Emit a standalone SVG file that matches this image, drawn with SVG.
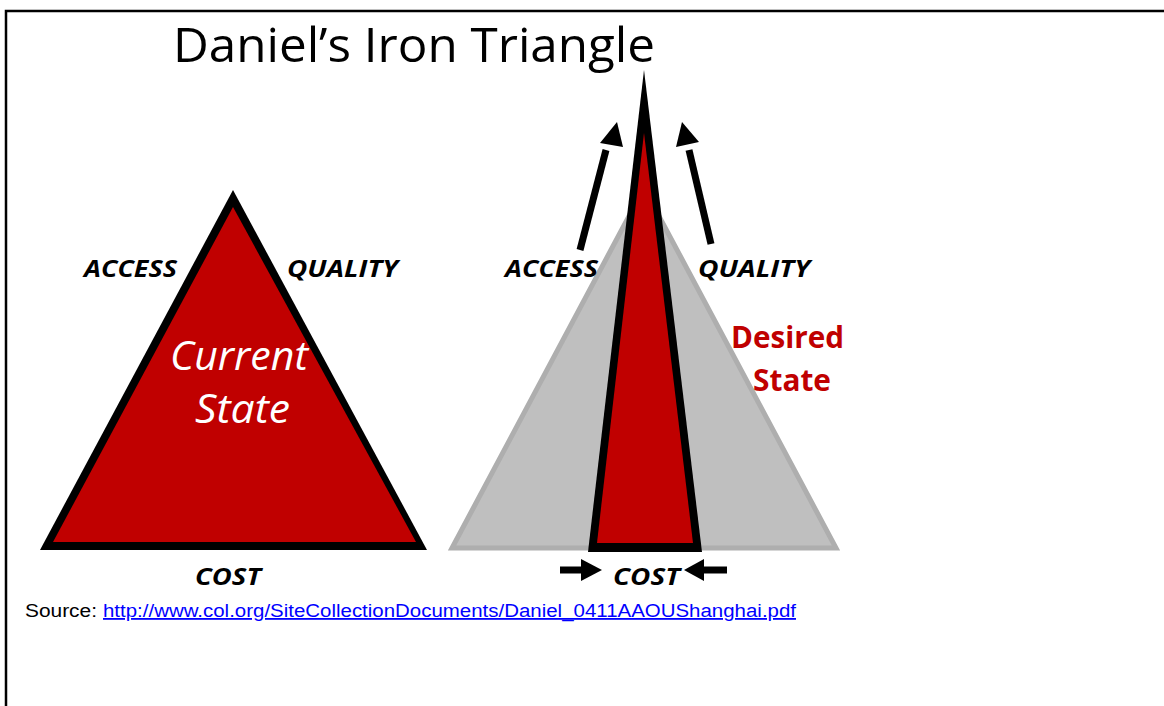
<svg xmlns="http://www.w3.org/2000/svg" width="1164" height="706" viewBox="0 0 1164 706">
  <defs>
    <style>
      .lbl { font-family: "Open Sans", "Noto Sans", sans-serif; font-weight: bold; font-style: italic; font-size: 24px; fill: #000; }
      .cost { font-family: "Open Sans", "Noto Sans", sans-serif; font-weight: bold; font-style: italic; font-size: 23px; fill: #000; }
      .cur { font-family: "Open Sans", "Noto Sans", sans-serif; font-style: italic; font-size: 41px; fill: #fff; }
      .des { font-family: "Open Sans", "Noto Sans", sans-serif; font-weight: bold; font-size: 30px; fill: #C00000; }
      .arrow { stroke: #000; stroke-width: 7; fill: none; }
      .head { fill: #000; }
    </style>
  </defs>
  <rect width="1164" height="706" fill="#fff"/>
  <path d="M6 706 V11 H1164" fill="none" stroke="#000" stroke-width="2.5"/>

  <text x="173" y="62" font-family="Open Sans, Noto Sans, sans-serif" font-size="48" textLength="482" lengthAdjust="spacingAndGlyphs">Daniel’s Iron Triangle</text>

  <g id="current-state">
    <polygon points="233,190 40,550 427,550" fill="#000"/>
    <polygon points="233,207 53,542 416,542" fill="#C00000"/>
    <text class="cur" x="170" y="370" textLength="138" lengthAdjust="spacingAndGlyphs">Current</text>
    <text class="cur" x="195" y="423" textLength="95" lengthAdjust="spacingAndGlyphs">State</text>
  </g>
  <g id="left-labels">
    <text class="lbl" x="84" y="277" textLength="93" lengthAdjust="spacingAndGlyphs">ACCESS</text>
    <text class="lbl" x="287" y="277" textLength="111" lengthAdjust="spacingAndGlyphs">QUALITY</text>
    <text class="cost" x="195" y="585" textLength="66" lengthAdjust="spacingAndGlyphs">COST</text>
  </g>

  <g id="desired-state">
    <polygon points="644,188 452,548 836,548" fill="#BFBFBF" stroke="#AEAEAE" stroke-width="5" stroke-linejoin="miter"/>
    <polygon points="644,70 588,552 702,552" fill="#000"/>
    <polygon points="644,133 597,543 693,543" fill="#C00000"/>
    <text class="des" x="731" y="348" textLength="113" lengthAdjust="spacingAndGlyphs">Desired</text>
    <text class="des" x="753" y="391" textLength="78" lengthAdjust="spacingAndGlyphs">State</text>
  </g>
  <g id="right-labels">
    <text class="lbl" x="505" y="277" textLength="93" lengthAdjust="spacingAndGlyphs">ACCESS</text>
    <text class="lbl" x="698" y="277" textLength="112" lengthAdjust="spacingAndGlyphs">QUALITY</text>
    <text class="cost" x="613" y="585" textLength="67" lengthAdjust="spacingAndGlyphs">COST</text>
  </g>

  <g id="connectors">
    <line class="arrow" x1="580" y1="250" x2="606" y2="150"/>
    <polygon class="head" points="617,122 600,143 623,147"/>
    <line class="arrow" x1="711" y1="244" x2="689" y2="150"/>
    <polygon class="head" points="682,122 676,147 699,142"/>
    <line class="arrow" x1="560" y1="570" x2="585" y2="570" stroke-width="6"/>
    <polygon class="head" points="602,570 581,559 581,581"/>
    <line class="arrow" x1="700" y1="570" x2="727" y2="570" stroke-width="6"/>
    <polygon class="head" points="684,570 704,559 704,581"/>
  </g>

  <g id="source">
    <text x="25" y="617" font-family="Liberation Sans, Arial, sans-serif" font-size="18" fill="#000" textLength="72" lengthAdjust="spacingAndGlyphs">Source:</text>
    <text x="103" y="617" font-family="Liberation Sans, Arial, sans-serif" font-size="18" fill="#0000FF" text-decoration="underline" textLength="693" lengthAdjust="spacingAndGlyphs">http://www.col.org/SiteCollectionDocuments/Daniel_0411AAOUShanghai.pdf</text>
  </g>
</svg>
